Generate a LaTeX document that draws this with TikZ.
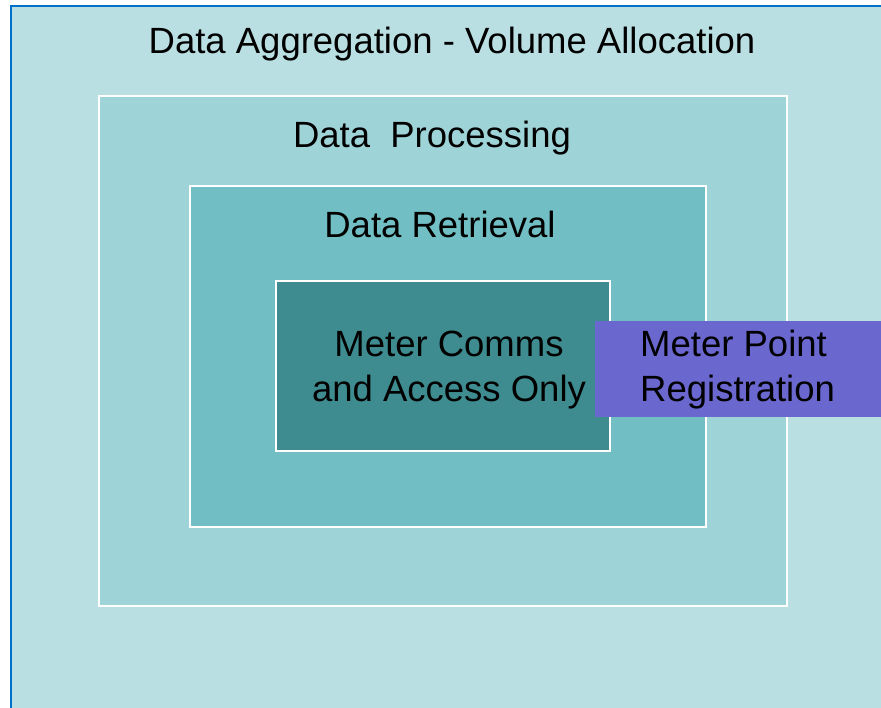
\documentclass[tikz,border=0pt]{standalone}
\usepackage{fontspec}
\setmainfont{Liberation Sans}
\definecolor{aggborder}{HTML}{0070C8}
\definecolor{aggfill}{HTML}{B9DFE2}
\definecolor{procfill}{HTML}{9ED3D7}
\definecolor{retrfill}{HTML}{71BFC4}
\definecolor{commsfill}{HTML}{3E8C90}
\definecolor{regfill}{HTML}{6A67CE}
\begin{document}
\begin{tikzpicture}[x=1pt, y=-1pt,
    box/.style={rectangle, inner sep=0pt, outer sep=0pt, draw=white, line width=2pt},
    txt/.style={inner sep=0pt, font=\fontsize{36.5}{45}\selectfont, text=black}]
    \useasboundingbox[fill=white] (0,0) rectangle (881,707);

    \node (a1) at (453,363) [box, draw=aggborder, fill=aggfill, minimum width=884, minimum height=714] {};
    \node (a2) at (452,53) [txt, anchor=base] {Data Aggregation - Volume Allocation};

    \node (b1) at (443,351) [box, fill=procfill, minimum width=688, minimum height=510] {};
    \node (b2) at (432,147) [txt, anchor=base] {Data\ \ Processing};

    \node (c1) at (448,356.5) [box, fill=retrfill, minimum width=516, minimum height=341] {};
    \node (c2) at (440,237) [txt, anchor=base] {Data Retrieval};

    \node (d1) at (443,366) [box, fill=commsfill, minimum width=334, minimum height=170] {};
    \node (d2) at (449,370) [txt, align=center] {Meter Comms\\and Access Only};

    % sits on top of the comms box
    \node (e1) at (742.5,369) [box, draw=none, fill=regfill, minimum width=295, minimum height=96] {};
    \node (e2) at (640,370) [txt, anchor=west, align=left] {Meter Point\\Registration};
\end{tikzpicture}
\end{document}
